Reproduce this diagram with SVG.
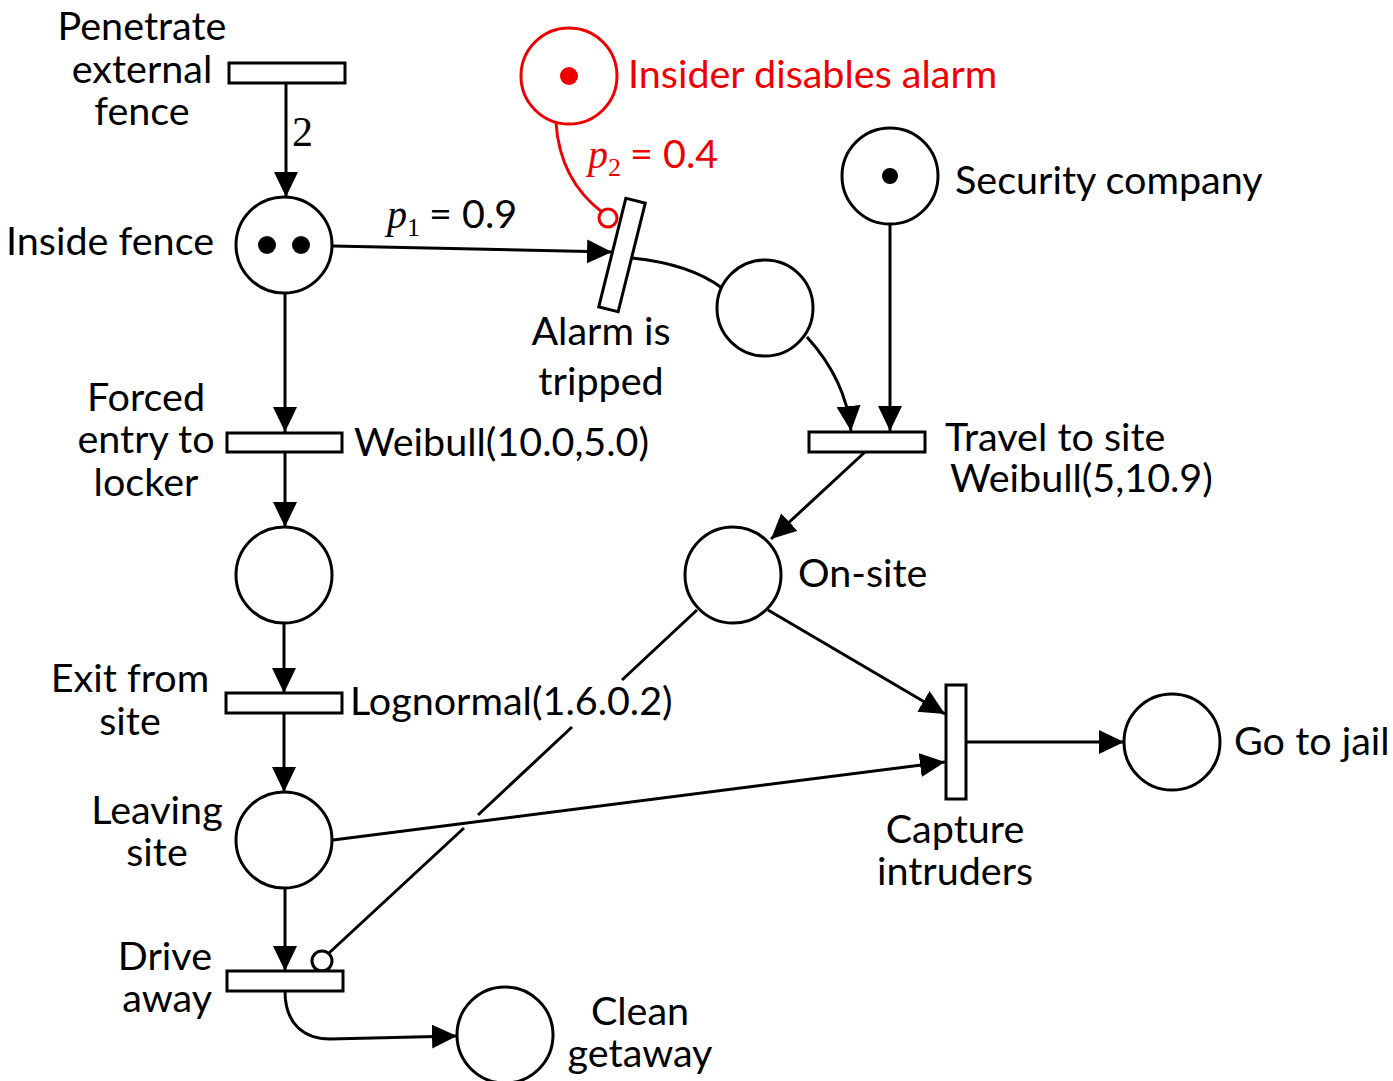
<svg xmlns="http://www.w3.org/2000/svg" width="1393" height="1081" viewBox="0 0 1393 1081">
<style>
.pl{fill:#fff;stroke:#000;stroke-width:3}
.tr{fill:#fff;stroke:#000;stroke-width:3}
.tok{fill:#000}
.ar{fill:none;stroke:#000;stroke-width:3}
.t{font-family:Lato,"Liberation Sans",sans-serif;font-size:39.5px;fill:#000}
.m{text-anchor:middle}
.e{text-anchor:end}
.red{fill:#e00}
.sr{font-family:"Liberation Serif","Times New Roman",serif}
</style>
<defs>
<marker id="ah" markerUnits="userSpaceOnUse" markerWidth="26" markerHeight="26" refX="25" refY="12" orient="auto">
<path d="M0,0 L25,12 L0,24 z" fill="#000"/>
</marker>
</defs>
<g id="connectors">
<path class="ar" d="M286,83 L286,197" marker-end="url(#ah)"/>
<path class="ar" d="M333,246 L612,252" marker-end="url(#ah)"/>
<path class="ar" d="M632,258 Q690,264 722,288"/>
<path class="ar" d="M807,337 Q846,380 851,431" marker-end="url(#ah)"/>
<path class="ar" d="M890,224 L890,431" marker-end="url(#ah)"/>
<path class="ar" d="M865,452 L771,539" marker-end="url(#ah)"/>
<path class="ar" d="M768,610 L945,714" marker-end="url(#ah)"/>
<path class="ar" d="M966,742 L1124,742" marker-end="url(#ah)"/>
<path class="ar" d="M333,840 L945,762" marker-end="url(#ah)"/>
<path class="ar" d="M285,293 L285,432" marker-end="url(#ah)"/>
<path class="ar" d="M285,452 L285,527" marker-end="url(#ah)"/>
<path class="ar" d="M284,623 L284,693" marker-end="url(#ah)"/>
<path class="ar" d="M284,713 L284,792" marker-end="url(#ah)"/>
<path class="ar" d="M285,888 L285,971" marker-end="url(#ah)"/>
<path class="ar" d="M285,991 C285,1025 305,1039 330,1039 L457,1036" marker-end="url(#ah)"/>
<path class="ar" d="M697,610 L622,680 M572,727 L478,815 M464,828 L329,953"/>
<circle cx="322" cy="961" r="10" fill="#fff" stroke="#000" stroke-width="3"/>
<path d="M556,123 Q560,180 602,212" fill="none" stroke="#e00" stroke-width="3"/>
<circle cx="608" cy="218" r="9" fill="#fff" stroke="#e00" stroke-width="3"/>
<text class="sr" x="292" y="146" font-size="42">2</text>
<text x="387" y="228"><tspan class="sr" font-style="italic" font-size="40">p</tspan><tspan class="sr" font-size="26" dy="8">1</tspan><tspan class="t" dy="-8" dx="9" font-size="37">= 0.9</tspan></text>
<text x="588" y="168" fill="#e00"><tspan class="sr" font-style="italic" font-size="40" fill="#e00">p</tspan><tspan class="sr" font-size="26" dy="8" fill="#e00">2</tspan><tspan class="t red" dy="-8" dx="9" font-size="37">= 0.4</tspan></text>
</g>
<g id="penetrate">
<rect class="tr" x="229" y="63" width="116" height="20"/>
<text class="t m" x="142" y="40">Penetrate</text>
<text class="t m" x="142" y="83">external</text>
<text class="t m" x="142" y="125">fence</text>
</g>
<g id="inside-fence">
<circle class="pl" cx="284" cy="245" r="48"/>
<circle class="tok" cx="267" cy="245" r="9"/>
<circle class="tok" cx="301" cy="245" r="9"/>
<text class="t e" x="214" y="255">Inside fence</text>
</g>
<g id="insider">
<circle cx="569" cy="76" r="48" fill="#fff" stroke="#e00" stroke-width="3"/>
<circle cx="569" cy="76" r="9" fill="#e00"/>
<text class="t red" x="628" y="88">Insider disables alarm</text>
</g>
<g id="security">
<circle class="pl" cx="890" cy="176" r="48"/>
<circle class="tok" cx="890" cy="176" r="8"/>
<text class="t" x="955" y="194">Security company</text>
</g>
<g id="alarm">
<rect class="tr" x="612" y="199" width="20" height="112" transform="rotate(14 622 255)"/>
<text class="t m" x="601" y="345">Alarm is</text>
<text class="t m" x="601" y="395">tripped</text>
</g>
<g id="alarm-place">
<circle class="pl" cx="765" cy="308" r="48"/>
</g>
<g id="travel">
<rect class="tr" x="809" y="432" width="116" height="20"/>
<text class="t" x="945" y="451">Travel to site</text>
<text class="t" x="950" y="492">Weibull(5,10.9)</text>
</g>
<g id="on-site">
<circle class="pl" cx="733" cy="575" r="48"/>
<text class="t" x="798" y="587">On-site</text>
</g>
<g id="capture">
<rect class="tr" x="946" y="685" width="20" height="114"/>
<text class="t m" x="955" y="843">Capture</text>
<text class="t m" x="955" y="885">intruders</text>
</g>
<g id="jail">
<circle class="pl" cx="1172" cy="742" r="48"/>
<text class="t" x="1234" y="755">Go to jail</text>
</g>
<g id="forced">
<rect class="tr" x="227" y="433" width="115" height="19"/>
<text class="t m" x="146" y="411">Forced</text>
<text class="t m" x="146" y="453">entry to</text>
<text class="t m" x="146" y="496">locker</text>
<text class="t" x="354" y="456">Weibull(10.0,5.0)</text>
</g>
<g id="locker-place">
<circle class="pl" cx="284" cy="575" r="48"/>
</g>
<g id="exit">
<rect class="tr" x="226" y="693" width="116" height="20"/>
<text class="t m" x="130" y="692">Exit from</text>
<text class="t m" x="130" y="735">site</text>
<text class="t" x="350" y="715">Lognormal(1.6.0.2)</text>
</g>
<g id="leaving">
<circle class="pl" cx="284" cy="840" r="48"/>
<text class="t m" x="157" y="824">Leaving</text>
<text class="t m" x="157" y="866">site</text>
</g>
<g id="drive">
<rect class="tr" x="227" y="971" width="116" height="20"/>
<text class="t e" x="212" y="970">Drive</text>
<text class="t e" x="212" y="1012">away</text>
</g>
<g id="clean">
<circle class="pl" cx="505" cy="1035" r="48"/>
<text class="t m" x="640" y="1025">Clean</text>
<text class="t m" x="640" y="1067">getaway</text>
</g>
</svg>
